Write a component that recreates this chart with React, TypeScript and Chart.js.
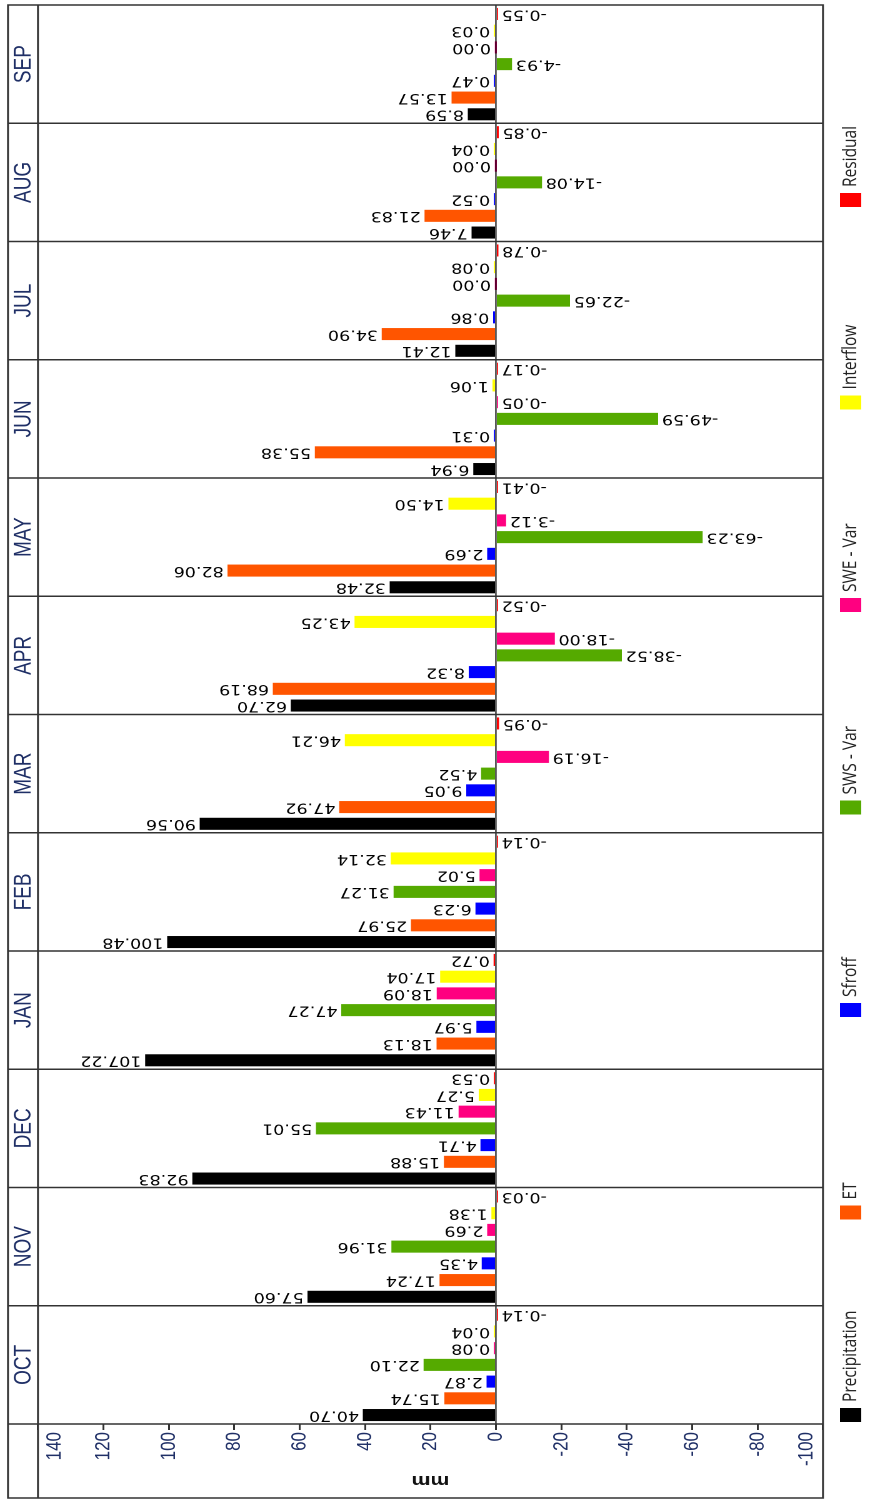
import React, { useEffect, useRef } from "react";
import { Chart, registerables } from "chart.js";

Chart.register(...registerables);

// ---------- data ----------
const months = ["OCT", "NOV", "DEC", "JAN", "FEB", "MAR", "APR", "MAY", "JUN", "JUL", "AUG", "SEP"];
const seriesNames = ["Precipitation", "ET", "Sfroff", "SWS - Var", "SWE - Var", "Interflow", "Residual"];
const seriesColors = ["#000000", "#FF5500", "#0000FF", "#55AA00", "#FF0080", "#FFFF00", "#FF0000"];

const precipitation = [40.7, 57.6, 92.83, 107.22, 100.48, 90.56, 62.7, 32.48, 6.94, 12.41, 7.46, 8.59];
const et = [15.74, 17.24, 15.88, 18.13, 25.97, 47.92, 68.19, 82.06, 55.38, 34.9, 21.83, 13.57];
const sfroff = [2.87, 4.35, 4.71, 5.97, 6.23, 9.05, 8.32, 2.69, 0.31, 0.86, 0.52, 0.47];
const swsVar = [22.1, 31.96, 55.01, 47.27, 31.27, 4.52, -38.52, -63.23, -49.59, -22.65, -14.08, -4.93];
const sweVar = [0.08, 2.69, 11.43, 18.09, 5.02, -16.19, -18.0, -3.12, -0.05, 0.0, 0.0, 0.0];
const interflow = [0.04, 1.38, 5.27, 17.04, 32.14, 46.21, 43.25, 14.5, 1.06, 0.08, 0.04, 0.03];
const residual = [-0.14, -0.03, 0.53, 0.72, -0.14, -0.95, -0.52, -0.41, -0.17, -0.78, -0.85, -0.55];

const yMin = -100;
const yMax = 140;
const yStep = 20;
const yTitle = "mm";

// ---------- styling ----------
const STRETCH = 1.25;
const INNER_W = 1501;
const INNER_H = 714;
const HEADER_H = 24;
const AXIS_W = 74;
const NAVY = "#1f2f66";
const LINE = "#333333";
const SANS = '"Liberation Sans", Arial, sans-serif';
const VALUE_FONT = '"DejaVu Sans", Verdana, sans-serif';
const LEGEND_FONT = '"Open Sans", "Liberation Sans", sans-serif';

const framePlugin = {
  id: "frame",
  afterDatasetsDraw(chart: any) {
    const { ctx, chartArea: a, scales } = chart;
    const y = scales.y;
    const y0 = y.getPixelForValue(0);
    ctx.save();
    ctx.strokeStyle = "#000";
    ctx.lineWidth = 1;
    ctx.beginPath();
    ctx.moveTo(a.left, y0);
    ctx.lineTo(a.right, y0);
    ctx.stroke();

    // value labels
    ctx.fillStyle = "#000";
    ctx.font = `14px ${VALUE_FONT}`;
    ctx.textBaseline = "middle";
    chart.data.datasets.forEach((ds: any, di: number) => {
      const meta = chart.getDatasetMeta(di);
      meta.data.forEach((el: any, i: number) => {
        const v = ds.data[i] as number;
        const txt = v.toFixed(2);
        ctx.save();
        if (v >= 0) {
          ctx.translate(el.x, Math.min(el.y, el.base) - 3);
          ctx.rotate(-Math.PI / 2);
          ctx.textAlign = "left";
        } else {
          ctx.translate(el.x, Math.max(el.y, el.base) + 3);
          ctx.rotate(-Math.PI / 2);
          ctx.textAlign = "right";
        }
        ctx.fillText(txt, 0, 0);
        ctx.restore();
      });
    });
    ctx.restore();
  },
  afterDraw(chart: any) {
    const { ctx, chartArea: a, scales } = chart;
    const x = scales.x;
    const y = scales.y;
    const top = a.top - HEADER_H;
    const left = a.left - AXIS_W;
    ctx.save();
    ctx.strokeStyle = LINE;
    ctx.lineWidth = 1.5;
    const line = (x1: number, y1: number, x2: number, y2: number) => {
      ctx.beginPath();
      ctx.moveTo(x1, y1);
      ctx.lineTo(x2, y2);
      ctx.stroke();
    };
    ctx.strokeRect(left, top, a.right - left, a.bottom - top);
    line(left, a.top, a.right, a.top);
    line(a.left, top, a.left, a.bottom);
    const labels = x.getLabels();
    for (let i = 1; i < labels.length; i++) {
      const px = (x.getPixelForValue(i - 1) + x.getPixelForValue(i)) / 2;
      line(px, top, px, a.bottom);
    }

    // month header labels
    ctx.fillStyle = NAVY;
    ctx.font = `19px ${SANS}`;
    ctx.textAlign = "center";
    ctx.textBaseline = "middle";
    labels.forEach((lab: string, i: number) => {
      ctx.fillText(lab, x.getPixelForValue(i), top + HEADER_H / 2 + 1);
    });

    // y tick labels (edge labels pulled inside the frame)
    ctx.font = `17px ${SANS}`;
    ctx.textAlign = "right";
    ctx.textBaseline = "middle";
    y.ticks.forEach((t: any) => {
      let p = y.getPixelForValue(t.value);
      if (t.value === yMax) p += 13.5;
      if (t.value === yMin) p -= 13;
      ctx.fillText(t.label ?? String(t.value), a.left - 8, p);
    });

    // legend
    const boxTop = a.bottom + 13.6;
    const boxW = 14;
    const boxH = 17;
    ctx.font = `15.5px ${LEGEND_FONT}`;
    ctx.textAlign = "left";
    ctx.textBaseline = "middle";
    seriesNames.forEach((name, i) => {
      const bx = a.left + 2 + i * 202.5;
      ctx.fillStyle = seriesColors[i];
      ctx.fillRect(bx, boxTop, boxW, boxH);
      ctx.fillStyle = "#222";
      ctx.fillText(name, bx + boxW + 6, boxTop + boxH / 2);
    });
    ctx.restore();
  },
};

export default function App() {
  const ref = useRef<HTMLCanvasElement>(null);
  useEffect(() => {
    const seriesData = [precipitation, et, sfroff, swsVar, sweVar, interflow, residual];
    const chart = new Chart(ref.current as HTMLCanvasElement, {
      type: "bar",
      data: {
        labels: months,
        datasets: seriesData.map((d, i) => ({
          label: seriesNames[i],
          data: d,
          backgroundColor: seriesColors[i],
          borderWidth: 0,
          categoryPercentage: 0.99,
          barPercentage: 0.72,
          minBarLength: 1.6,
        })),
      },
      options: {
        animation: false,
        responsive: true,
        maintainAspectRatio: false,
        devicePixelRatio: 2,
        layout: { padding: { left: 3, right: 5, top: 6.4, bottom: INNER_H - 658.4 } },
        plugins: { legend: { display: false }, tooltip: { enabled: false } },
        scales: {
          x: {
            type: "category",
            position: "top",
            offset: true,
            grid: { display: false },
            border: { display: false },
            ticks: { display: false, autoSkip: false },
            afterFit: (s: any) => {
              s.height = HEADER_H;
            },
          },
          y: {
            type: "linear",
            position: "left",
            min: yMin,
            max: yMax,
            ticks: { display: false, stepSize: yStep, includeBounds: false },
            grid: { drawOnChartArea: false, drawTicks: true, tickLength: 6, color: LINE, lineWidth: 1.5 },
            border: { display: false },
            title: {
              display: true,
              text: yTitle,
              color: "#111",
              font: { family: SANS, size: 17, weight: "bold" },
              padding: { top: 7, bottom: 0 },
            },
            afterFit: (s: any) => {
              s.width = AXIS_W;
            },
          },
        },
      } as any,
      plugins: [framePlugin],
    });
    return () => chart.destroy();
  }, []);

  return (
    <div style={{ position: "absolute", left: 0, top: 0, width: 893, height: 1501, overflow: "hidden", background: "#fff" }}>
      <div
        style={{
          position: "absolute",
          left: 0,
          top: 0,
          width: INNER_W,
          height: INNER_H,
          transformOrigin: "0 0",
          transform: `translateY(${INNER_W}px) scaleX(${STRETCH}) rotate(-90deg)`,
        }}
      >
        <canvas ref={ref} />
      </div>
    </div>
  );
}
